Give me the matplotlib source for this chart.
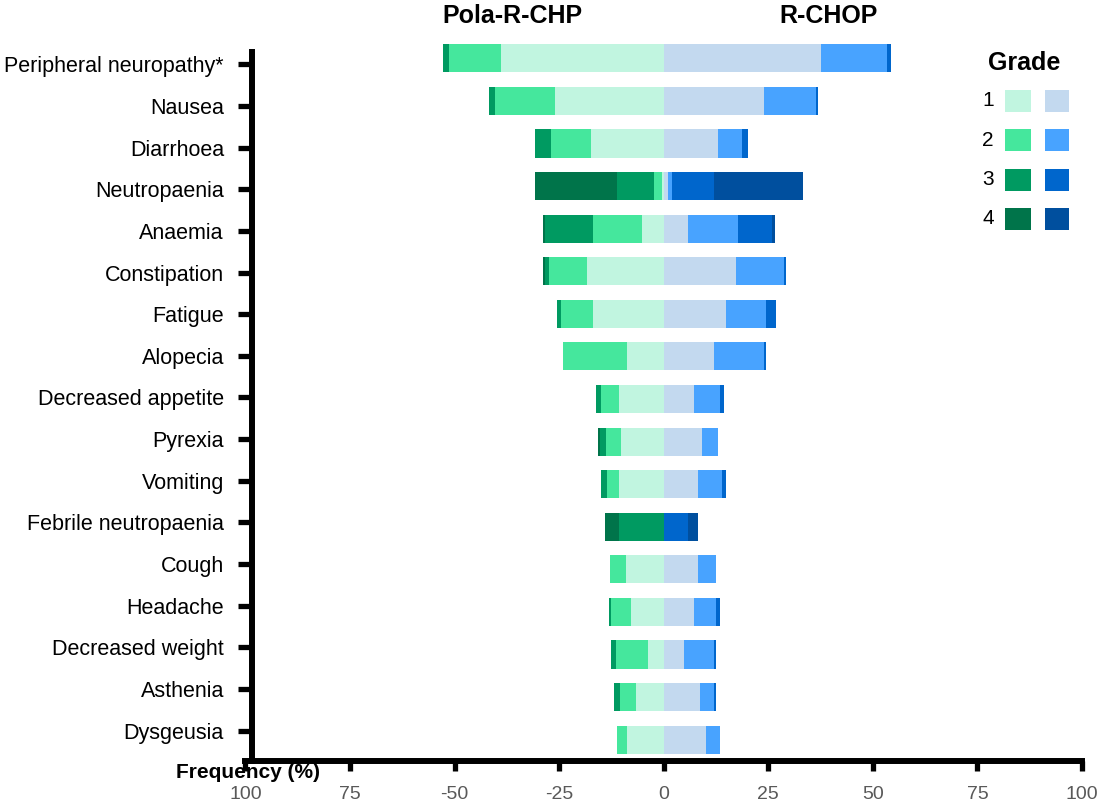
import numpy as np
import matplotlib.pyplot as plt
from matplotlib.patches import Rectangle

plt.rcParams['font.family'] = ['Liberation Sans', 'DejaVu Sans']

categories = ['Peripheral neuropathy*', 'Nausea', 'Diarrhoea', 'Neutropaenia', 'Anaemia',
              'Constipation', 'Fatigue', 'Alopecia', 'Decreased appetite', 'Pyrexia',
              'Vomiting', 'Febrile neutropaenia', 'Cough', 'Headache', 'Decreased weight',
              'Asthenia', 'Dysgeusia']

# frequency (%) by grade, Pola-R-CHP arm
pola_g1 = [38.9, 26.0, 17.3, 0.5, 5.3, 18.3, 16.8, 8.7, 10.6, 10.1, 10.6, 0.0, 9.1, 7.7, 3.8, 6.7, 8.7]
pola_g2 = [12.5, 14.4, 9.6, 1.9, 11.5, 9.1, 7.7, 15.4, 4.3, 3.8, 2.9, 0.0, 3.8, 4.8, 7.7, 3.8, 2.4]
pola_g3 = [1.4, 1.4, 3.8, 8.7, 11.5, 1.0, 1.0, 0.0, 1.4, 1.4, 1.4, 10.6, 0.0, 0.5, 1.0, 1.4, 0.0]
pola_g4 = [0.0, 0.0, 0.0, 19.7, 0.5, 0.5, 0.0, 0.0, 0.0, 0.5, 0.0, 3.4, 0.0, 0.0, 0.0, 0.0, 0.0]

# frequency (%) by grade, R-CHOP arm
rchop_g1 = [37.5, 24.0, 13.0, 1.0, 5.8, 17.3, 14.9, 12.0, 7.2, 9.1, 8.2, 0.0, 8.2, 7.2, 4.8, 8.7, 10.1]
rchop_g2 = [15.9, 12.5, 5.8, 1.0, 12.0, 11.5, 9.6, 12.0, 6.3, 3.8, 5.8, 0.0, 4.3, 5.3, 7.2, 3.4, 3.4]
rchop_g3 = [1.0, 0.5, 1.4, 10.1, 8.2, 0.5, 2.4, 0.5, 1.0, 0.0, 1.0, 5.8, 0.0, 1.0, 0.5, 0.5, 0.0]
rchop_g4 = [0.0, 0.0, 0.0, 21.2, 0.5, 0.0, 0.0, 0.0, 0.0, 0.0, 0.0, 2.4, 0.0, 0.0, 0.0, 0.0, 0.0]

grades = ['1', '2', '3', '4']
green = ['#c1f5e0', '#45e79d', '#009a61', '#00744a']
blue = ['#c3d9ef', '#48a3ff', '#0066cc', '#004f9e']

xticks = [-100, -75, -50, -25, 0, 25, 50, 75, 100]
xtick_labels = ['100', '75', '-50', '-25', '0', '25', '50', '75', '100']

fig = plt.figure(figsize=(11.02, 8.08), dpi=100)
ax = fig.add_axes([0.2227, 0.0582, 0.7591, 0.896])

y = np.arange(len(categories))
h = 0.66

left = np.zeros(len(categories))
for vals, c in zip([pola_g1, pola_g2, pola_g3, pola_g4], green):
    v = np.array(vals)
    ax.barh(y, -v, left=-left, height=h, color=c, linewidth=0)
    left += v

left = np.zeros(len(categories))
for vals, c in zip([rchop_g1, rchop_g2, rchop_g3, rchop_g4], blue):
    v = np.array(vals)
    ax.barh(y, v, left=left, height=h, color=c, linewidth=0)
    left += v

ax.set_xlim(-100, 100)
ax.set_ylim(len(categories) - 0.5, -0.5)
# category axis sits on a slightly tighter pitch than the bars
ax.set_yticks(y * 0.978 + 0.14)
ax.set_yticklabels(categories)
ax.set_xticks(xticks)
ax.set_xticklabels(xtick_labels)

for s in ['top', 'right']:
    ax.spines[s].set_visible(False)
ax.spines['left'].set_position(('data', -98.5))
ax.spines['left'].set_bounds(-0.14, len(categories) - 0.5)
ax.spines['left'].set_linewidth(4.3)
ax.spines['bottom'].set_linewidth(4.3)
ax.tick_params(axis='y', length=10, width=3.8, pad=10, labelsize=15.5)
ax.tick_params(axis='x', length=7, width=3.8, pad=11, labelsize=14, labelcolor='#595959')

fig.text(512 / 1102, 1 - 16 / 808, 'Pola-R-CHP', fontsize=18, fontweight='bold', ha='center', va='center')
fig.text(829 / 1102, 1 - 16 / 808, 'R-CHOP', fontsize=18, fontweight='bold', ha='center', va='center')
fig.text(176 / 1102, 1 - 772 / 808, 'Frequency (%)', fontsize=15, fontweight='bold', ha='left', va='center')

# grade key
fig.text(1024 / 1102, 1 - 63 / 808, 'Grade', fontsize=18, fontweight='bold', ha='center', va='center')
W, H = 1102, 808
for i, g in enumerate(grades):
    cy = 101 + 39.3 * i
    fig.text(988 / W, 1 - cy / H, g, fontsize=15, ha='center', va='center')
    fig.patches.append(Rectangle((1005 / W, 1 - (cy + 11) / H), 26 / W, 22 / H,
                                 transform=fig.transFigure, color=green[i], lw=0))
    fig.patches.append(Rectangle((1045 / W, 1 - (cy + 11) / H), 24 / W, 22 / H,
                                 transform=fig.transFigure, color=blue[i], lw=0))

fig.savefig('out.png', dpi=100)
